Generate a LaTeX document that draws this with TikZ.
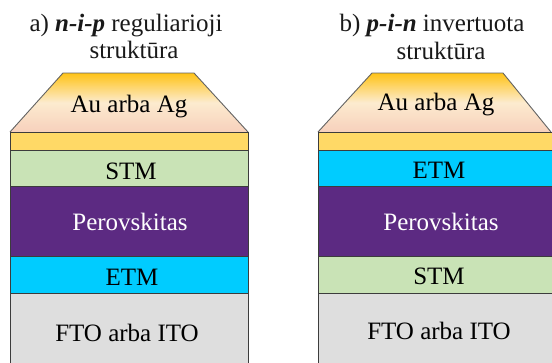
\documentclass[tikz,border=0pt]{standalone}
\usepackage{fontspec}
\setmainfont{Liberation Serif}
\definecolor{edge}{HTML}{3C3C3C}
\definecolor{gold}{HTML}{FFC316}
\definecolor{cream}{HTML}{FCEBCF}
\definecolor{peach}{HTML}{F7D0BC}
\definecolor{yel}{HTML}{FFD966}
\definecolor{stm}{HTML}{C9E3B6}
\definecolor{perov}{HTML}{5C2A82}
\definecolor{etm}{HTML}{00CCFF}
\definecolor{fto}{HTML}{DEDEDE}
\begin{document}
\begin{tikzpicture}[x=1pt,y=-1pt,
  layer/.style={draw=edge, line width=0.9pt},
  capline/.style={draw=edge!80, line width=0.9pt},
  lbl/.style={font=\fontsize{25}{25}\selectfont, text=black, inner sep=0pt, anchor=base},
  ttl/.style={font=\fontsize{25}{25}\selectfont, text=black!90, inner sep=0pt, anchor=base}]
\useasboundingbox (0,0) rectangle (552,362);
\clip (0,0) rectangle (552,362);

% ---------- left stack ----------
\shade[top color=gold, bottom color=peach, middle color=cream]
  (10,132) -- (63,73) -- (194,73) -- (248,132) -- cycle;
\draw[capline] (10,132) -- (63,73) -- (194,73) -- (248,132);
\path[layer, fill=yel] (10,132) rectangle (248,150);
\path[layer, fill=stm] (10,150) rectangle (248,186);
\path[layer, fill=perov] (10,186) rectangle (248,256);
\path[layer, fill=etm] (10,256) rectangle (248,293);
\path[layer, fill=fto] (10,293) rectangle (248,370);

\node[ttl] (ta1) at (126,31) {a) \textbf{\textit{n-i-p}} reguliarioji};
\node[ttl] (ta2) at (134,58) {struktūra};
\node[lbl] (la-au) at (129,112) {Au arba Ag};
\node[lbl] (la-stm) at (131,179) {STM};
\node[lbl] (la-per) at (130,230) {\textcolor{white}{Perovskitas}};
\node[lbl] (la-etm) at (132,285) {ETM};
\node[lbl] (la-fto) at (127,341) {FTO arba ITO};

% ---------- right stack ----------
\shade[top color=gold, bottom color=peach, middle color=cream]
  (318,132) -- (372,73) -- (503,73) -- (551,132) -- cycle;
\draw[capline] (318,132) -- (372,73) -- (503,73) -- (551,132);
\path[layer, fill=yel] (318,132) rectangle (558,150);
\path[layer, fill=etm] (318,150) rectangle (558,186);
\path[layer, fill=perov] (318,186) rectangle (558,256);
\path[layer, fill=stm] (318,256) rectangle (558,293);
\path[layer, fill=fto] (318,293) rectangle (558,370);

\node[ttl] (tb1) at (432,31) {b) \textbf{\textit{p-i-n}} invertuota};
\node[ttl] (tb2) at (441,59) {struktūra};
\node[lbl] (lb-au) at (436,110) {Au arba Ag};
\node[lbl] (lb-etm) at (439,178) {ETM};
\node[lbl] (lb-per) at (441,230) {\textcolor{white}{Perovskitas}};
\node[lbl] (lb-stm) at (439,284) {STM};
\node[lbl] (lb-fto) at (439,339) {FTO arba ITO};
\end{tikzpicture}
\end{document}
